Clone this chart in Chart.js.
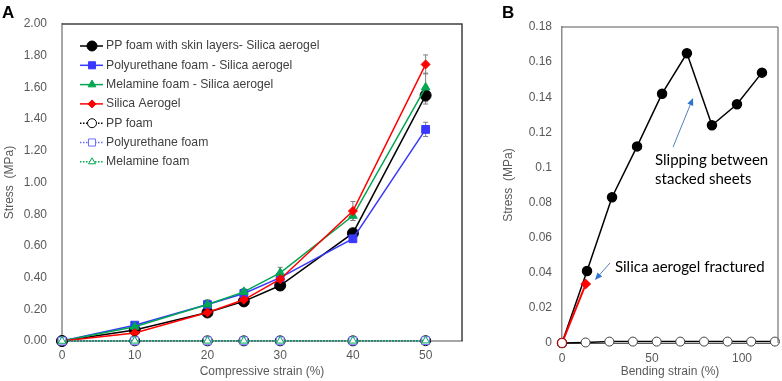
<!DOCTYPE html>
<html>
<head>
<meta charset="utf-8">
<script src="https://cdn.jsdelivr.net/npm/chart.js@4.4.0/dist/chart.umd.min.js"></script>
<style>
  body { margin: 0; background: #fff; }
  #wrap { position: relative; width: 782px; height: 381px; overflow: hidden; }
  #chartA { position: absolute; left: 0; top: 0; }
  #chartB { position: absolute; left: 490px; top: 0; }
</style>
</head>
<body>
<div id="wrap">
  <canvas id="chartA" width="470" height="381"></canvas>
  <canvas id="chartB" width="294" height="381"></canvas>
</div>
<script>
// Panel A - compressive test
const strainA = [0, 10, 20, 25, 30, 40, 50];
const ppSkinAerogel = [0, 0.07, 0.18, 0.25, 0.35, 0.68, 1.55];
const puAerogel = [0, 0.10, 0.23, 0.30, 0.40, 0.645, 1.335];
const melAerogel = [0, 0.09, 0.23, 0.31, 0.43, 0.79, 1.60];
const silicaAerogel = [0, 0.05, 0.18, 0.26, 0.39, 0.82, 1.745];
const ppFoam = [0, 0.001, 0.001, 0.001, 0.001, 0.001, 0.002];
const puFoam = [0, 0.001, 0.001, 0.001, 0.001, 0.001, 0.002];
const melFoam = [0, 0.001, 0.001, 0.001, 0.001, 0.001, 0.002];
const errPpSkin = [0, 0.01, 0.02, 0.02, 0.02, 0.02, 0.055];
const errPu = [0, 0.01, 0.01, 0.02, 0.02, 0.02, 0.045];
const errMel = [0, 0.01, 0.03, 0.02, 0.035, 0.03, 0.09];
const errSilica = [0, 0.01, 0.02, 0.02, 0.03, 0.06, 0.06];
const ticksA = [0, 0.2, 0.4, 0.6, 0.8, 1.0, 1.2, 1.4, 1.6, 1.8, 2.0];

// Panel B - bending test
const bendStrain = [0, 13.9, 27.8, 41.7, 55.6, 69.4, 83.3, 97.2, 111.1];
const stackedStress = [0, 0.041, 0.083, 0.112, 0.142, 0.165, 0.124, 0.136, 0.154];
const foamStrain = [0, 13.1, 26.3, 39.4, 52.6, 65.7, 78.9, 92.0, 105.1, 118.3];
const foamStress = [0, 0.0003, 0.0008, 0.0008, 0.0008, 0.0008, 0.0008, 0.0008, 0.0008, 0.0008];
const aerogelStrain = [0, 13.2];
const aerogelStress = [0, 0.0336];

// annotation anchors in data units (strain %, MPa)
const slipText = { x: 51.7, y: [0.1042, 0.0934], lines: ["Slipping between", "stacked sheets"] };
const slipArrow = { from: [61.7, 0.1116], to: [72.8, 0.1396] };
const fracText = { x: 29.4, y: [0.0433], lines: ["Silica aerogel fractured"] };
const fracArrow = { from: [26.7, 0.0456], to: [18.3, 0.0359] };

const tickFont = { family: "'Liberation Sans', Arial, sans-serif", size: 12 };
const grey = "#595959";

function pts(xs, ys) {
  return xs.map((x, i) => ({ x: x, y: ys[i] }));
}

const seriesA = [
  { label: "PP foam with skin layers- Silica aerogel", data: ppSkinAerogel, err: errPpSkin, color: "#000000", point: "circle", radius: 5.5, fill: "#000000", dash: [] },
  { label: "Polyurethane foam - Silica aerogel", data: puAerogel, err: errPu, color: "#3838ff", point: "rect", radius: 5.5, fill: "#3838ff", dash: [] },
  { label: "Melamine foam - Silica aerogel", data: melAerogel, err: errMel, color: "#00a651", point: "triangle", radius: 5, fill: "#00a651", dash: [] },
  { label: "Silica Aerogel", data: silicaAerogel, err: errSilica, color: "#ff0000", point: "rectRot", radius: 4.5, fill: "#ff0000", dash: [] },
  { label: "PP foam", data: ppFoam, err: null, color: "#000000", point: "circle", radius: 5, fill: "#ffffff", dash: [1.5, 1.5] },
  { label: "Polyurethane foam", data: puFoam, err: null, color: "#6b6bff", point: "rect", radius: 5.5, fill: "#ffffff", dash: [1.5, 1.5] },
  { label: "Melamine foam", data: melFoam, err: null, color: "#00a651", point: "triangle", radius: 4.5, fill: "#ffffff", dash: [1.5, 1.5] }
];

// error bars drawn under the markers
const errorBars = {
  id: "errorBars",
  beforeDatasetsDraw(chart) {
    const ctx = chart.ctx;
    const yScale = chart.scales.y;
    ctx.save();
    ctx.strokeStyle = "#7f7f7f";
    ctx.lineWidth = 1;
    seriesA.forEach((s, i) => {
      if (!s.err) return;
      const meta = chart.getDatasetMeta(i);
      meta.data.forEach((p, j) => {
        const e = s.err[j];
        if (!e) return;
        const top = yScale.getPixelForValue(s.data[j] + e);
        const bot = yScale.getPixelForValue(s.data[j] - e);
        ctx.beginPath();
        ctx.moveTo(p.x, top); ctx.lineTo(p.x, bot);
        ctx.moveTo(p.x - 2.5, top); ctx.lineTo(p.x + 2.5, top);
        ctx.moveTo(p.x - 2.5, bot); ctx.lineTo(p.x + 2.5, bot);
        ctx.stroke();
      });
    });
    ctx.restore();
  }
};

// box lines on top and right, panel letter, legend
const frameA = {
  id: "frameA",
  afterDraw(chart) {
    const ctx = chart.ctx;
    const a = chart.chartArea;
    ctx.save();
    ctx.strokeStyle = "#404040";
    ctx.lineWidth = 1.5;
    ctx.beginPath();
    ctx.moveTo(a.left, a.top); ctx.lineTo(a.right, a.top); ctx.lineTo(a.right, a.bottom);
    ctx.stroke();

    ctx.fillStyle = "#000";
    ctx.font = "bold 17px 'Liberation Sans', Arial, sans-serif";
    ctx.textBaseline = "alphabetic";
    ctx.fillText("A", 2, 18);

    // legend
    ctx.font = "12.2px 'Liberation Sans', Arial, sans-serif";
    ctx.textBaseline = "middle";
    seriesA.forEach((s, i) => {
      const y = 46 + i * 19.3;
      ctx.strokeStyle = s.color;
      ctx.lineWidth = 1.5;
      ctx.setLineDash(s.dash);
      ctx.beginPath();
      ctx.moveTo(80, y); ctx.lineTo(103, y);
      ctx.stroke();
      ctx.setLineDash([]);
      ctx.fillStyle = s.fill;
      ctx.lineWidth = 1;
      Chart.helpers.drawPoint(ctx, { pointStyle: s.point, radius: s.radius - 0.5, borderWidth: 1, rotation: 0 }, 92, y);
      ctx.fillStyle = "#404040";
      ctx.fillText(s.label, 106, y);
    });
    ctx.restore();
  }
};

new Chart(document.getElementById("chartA"), {
  type: "line",
  data: {
    datasets: seriesA.map((s, i) => ({
      label: s.label,
      data: pts(strainA, s.data),
      borderColor: s.color,
      borderWidth: 1.5,
      borderDash: s.dash,
      backgroundColor: s.fill,
      pointStyle: s.point,
      pointRadius: s.radius,
      pointBorderColor: s.color,
      pointBackgroundColor: s.fill,
      pointBorderWidth: 1,
      tension: 0,
      clip: false,
      order: seriesA.length - i
    }))
  },
  options: {
    responsive: false,
    animation: false,
    layout: { padding: { top: 24, right: 8, left: 0, bottom: 0 } },
    plugins: { legend: { display: false }, tooltip: { enabled: false } },
    scales: {
      x: {
        type: "linear", min: 0, max: 55,
        afterFit: (ax) => { ax.height = 40; },
        ticks: { stepSize: 10, includeBounds: false, padding: 7, color: grey, font: tickFont, maxRotation: 0 },
        grid: { display: false, drawTicks: false },
        border: { color: "#a6a6a6", width: 2 },
        title: { display: true, text: "Compressive strain (%)", color: grey, font: tickFont, padding: { top: 0, bottom: 2 } }
      },
      y: {
        min: 0, max: 2,
        afterFit: (ax) => { ax.width = 62; },
        afterBuildTicks: (ax) => { ax.ticks = ticksA.map(v => ({ value: v })); },
        ticks: { callback: (v) => Number(v).toFixed(2), padding: 15, color: grey, font: tickFont },
        grid: { display: false, drawTicks: false },
        border: { color: "#a6a6a6", width: 2 },
        title: { display: true, text: "Stress  (MPa)", color: grey, font: tickFont, padding: { top: 2, bottom: 0 } }
      }
    }
  },
  plugins: [errorBars, frameA]
});

// ---------- Panel B ----------
function arrow(ctx, x0, y0, x1, y1) {
  const ang = Math.atan2(y1 - y0, x1 - x0);
  const hl = 8;
  ctx.beginPath();
  ctx.moveTo(x0, y0);
  ctx.lineTo(x1 - Math.cos(ang) * hl * 0.8, y1 - Math.sin(ang) * hl * 0.8);
  ctx.stroke();
  ctx.beginPath();
  ctx.moveTo(x1, y1);
  ctx.lineTo(x1 - hl * Math.cos(ang - 0.4), y1 - hl * Math.sin(ang - 0.4));
  ctx.lineTo(x1 - hl * Math.cos(ang + 0.4), y1 - hl * Math.sin(ang + 0.4));
  ctx.closePath();
  ctx.fill();
}

const frameB = {
  id: "frameB",
  afterDraw(chart) {
    const ctx = chart.ctx;
    const a = chart.chartArea;
    const xs = chart.scales.x, ys = chart.scales.y;
    ctx.save();
    ctx.strokeStyle = "#595959";
    ctx.lineWidth = 1;
    ctx.beginPath();
    ctx.moveTo(a.left, a.top); ctx.lineTo(a.right, a.top); ctx.lineTo(a.right, a.bottom);
    ctx.stroke();

    ctx.fillStyle = "#000";
    ctx.font = "bold 17px 'Liberation Sans', Arial, sans-serif";
    ctx.fillText("B", 12, 18);

    ctx.font = "15px Lato, 'Open Sans', sans-serif";
    ctx.textBaseline = "middle";
    [slipText, fracText].forEach((t) => {
      t.lines.forEach((line, k) => {
        ctx.fillText(line, xs.getPixelForValue(t.x), ys.getPixelForValue(t.y[k]));
      });
    });

    ctx.strokeStyle = "#4f81bd";
    ctx.fillStyle = "#2e75d0";
    ctx.lineWidth = 1;
    [slipArrow, fracArrow].forEach((ar) => {
      arrow(ctx,
        xs.getPixelForValue(ar.from[0]), ys.getPixelForValue(ar.from[1]),
        xs.getPixelForValue(ar.to[0]), ys.getPixelForValue(ar.to[1]));
    });
    ctx.restore();
  }
};

new Chart(document.getElementById("chartB"), {
  type: "line",
  data: {
    datasets: [
      {
        label: "Silica aerogel",
        data: pts(aerogelStrain, aerogelStress),
        borderColor: "#ff0000", borderWidth: 2,
        pointStyle: ["circle", "rectRot"],
        pointRadius: [4.5, 4.5],
        pointBackgroundColor: ["#ffffff", "#ff0000"],
        pointBorderColor: ["#c00000", "#ff0000"],
        pointBorderWidth: 1.2,
        clip: false, order: 1
      },
      {
        label: "Stacked sheets",
        data: pts(bendStrain, stackedStress),
        borderColor: "#000000", borderWidth: 1.5,
        pointStyle: "circle", pointRadius: 4.5,
        pointBackgroundColor: "#000000", pointBorderColor: "#000000",
        clip: false, order: 3
      },
      {
        label: "Foam",
        data: pts(foamStrain, foamStress),
        borderColor: "#000000", borderWidth: 1.5,
        pointStyle: "circle", pointRadius: 4.5,
        pointBackgroundColor: "#ffffff", pointBorderColor: "#404040", pointBorderWidth: 1,
        clip: false, order: 2
      }
    ]
  },
  options: {
    responsive: false,
    animation: false,
    layout: { padding: { top: 27, right: 0, left: 0, bottom: 0 } },
    plugins: { legend: { display: false }, tooltip: { enabled: false } },
    scales: {
      x: {
        type: "linear", min: 0, max: 120,
        afterFit: (ax) => { ax.height = 38; },
        ticks: { stepSize: 50, includeBounds: false, padding: 8, color: grey, font: tickFont, maxRotation: 0 },
        grid: { display: false, drawTicks: false },
        border: { color: "#595959", width: 1 },
        title: { display: true, text: "Bending strain (%)", color: grey, font: tickFont, padding: { top: 0, bottom: 2 } }
      },
      y: {
        min: 0, max: 0.18,
        afterFit: (ax) => { ax.width = 72; },
        ticks: { stepSize: 0.02, callback: (v) => String(+Number(v).toFixed(2)), padding: 10, color: grey, font: tickFont },
        grid: { display: false, drawTicks: false },
        border: { color: "#8c8c8c", width: 1.5 },
        title: { display: true, text: "Stress  (MPa)", color: grey, font: tickFont, padding: { top: 11, bottom: 0 } }
      }
    }
  },
  plugins: [frameB]
});
</script>
</body>
</html>
